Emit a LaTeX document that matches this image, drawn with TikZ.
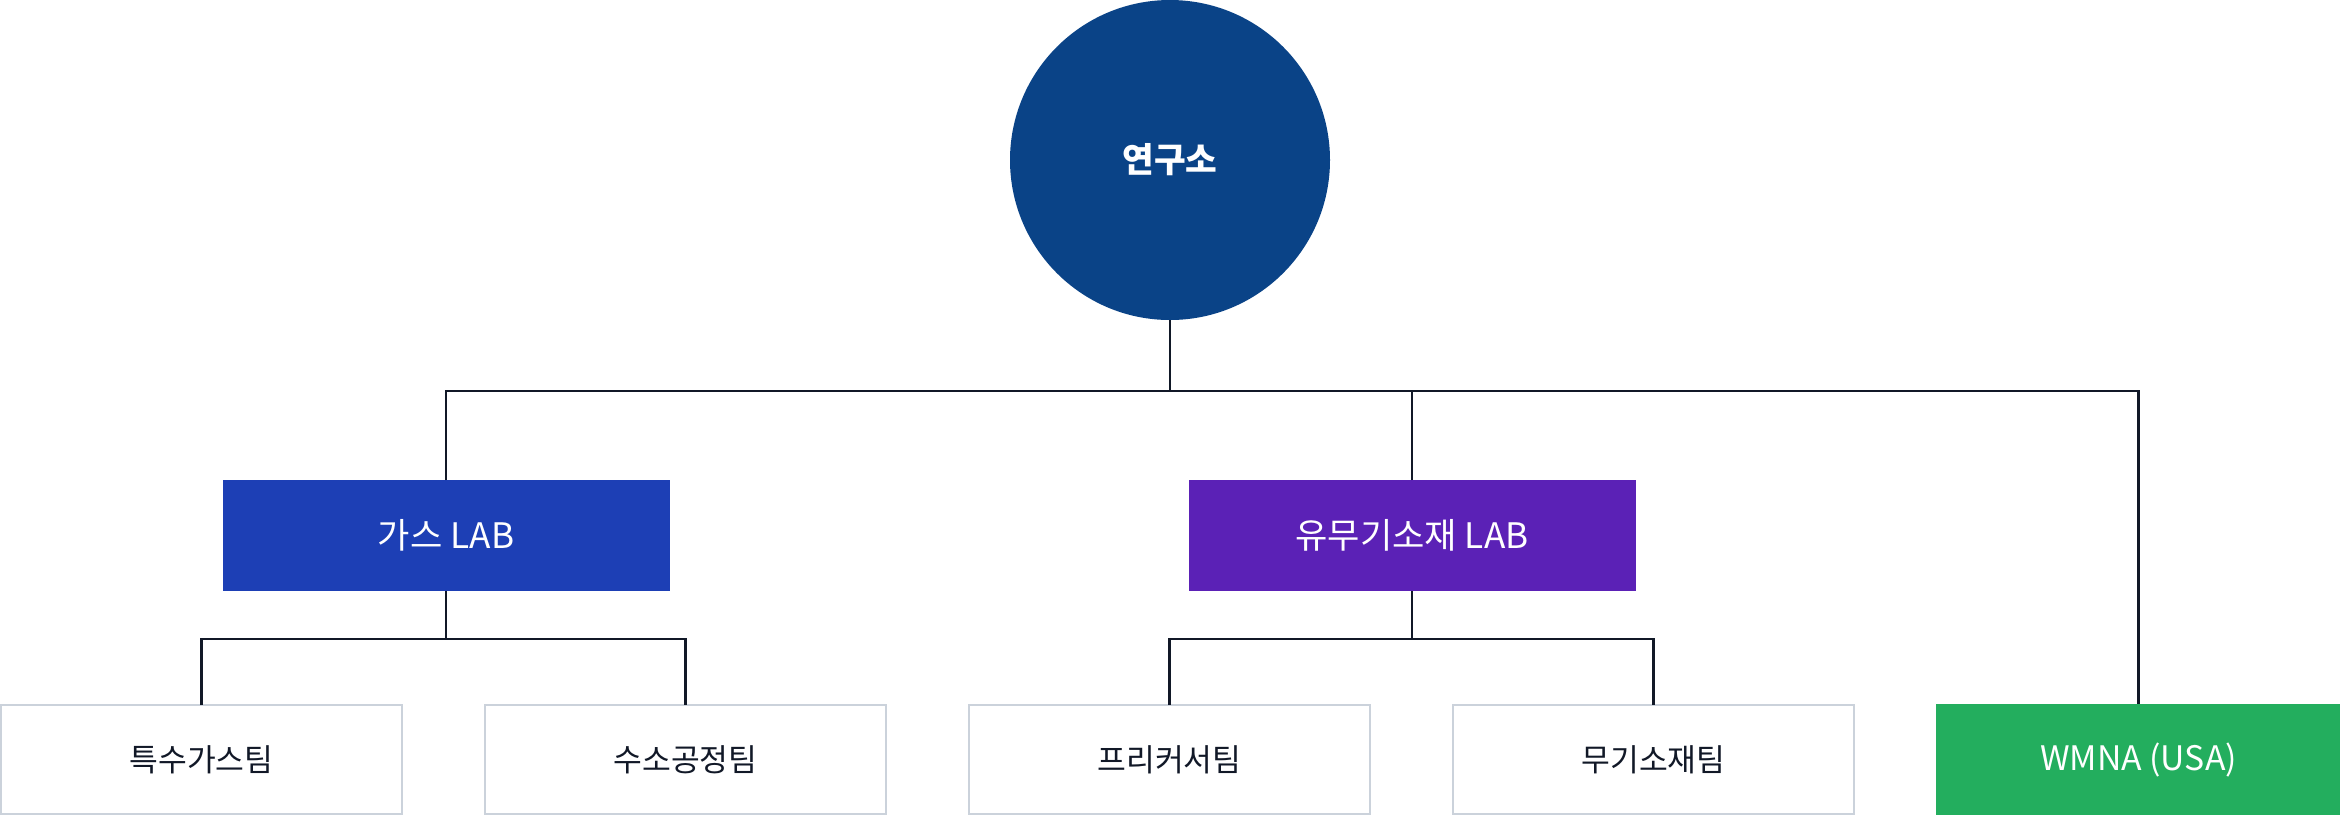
\documentclass[tikz,border=0pt]{standalone}
\usepackage{fontspec}
\setmainfont{Noto Sans CJK KR}
\usetikzlibrary{positioning}

\definecolor{rootblue}{HTML}{0A4387}
\definecolor{gasblue}{HTML}{1D3FB5}
\definecolor{labviolet}{HTML}{5B21B6}
\definecolor{wmnagreen}{HTML}{23AE5E}
\definecolor{boxgray}{HTML}{CBD2DB}
\definecolor{linedark}{HTML}{111827}

\begin{document}
\begin{tikzpicture}[
        every node/.style={inner sep=0pt, outer sep=0pt},
        lab/.style={fill=#1, text=white, minimum width=4.47cm, minimum height=1.11cm, font=\fontsize{10}{12}\selectfont},
        team/.style={draw=boxgray, line width=0.6pt, fill=white, text=linedark, minimum width=4.01cm, minimum height=1.09cm, font=\fontsize{8.9}{11}\selectfont},
        link/.style={draw=linedark, line width=0.6pt}
    ]
    \useasboundingbox (0,0) rectangle (23.4,-8.16);

    \node[circle, fill=rootblue, text=white, minimum size=3.2cm, font=\bfseries\fontsize{9.8}{12}\selectfont] (root) at (11.70,-1.60) {연구소};
    \coordinate[below=0.71cm of root] (bus);

    \node[lab=gasblue] (gas) at (4.46,-5.355) {가스 LAB};
    \node[lab=labviolet] (organic) at (14.12,-5.355) {유무기소재 LAB};
    \coordinate[below=0.48cm of gas] (gasbus);
    \coordinate[below=0.48cm of organic] (orgbus);

    \node[team] (team1) at (2.015,-7.595) {특수가스팀};
    \node[team, right=0.83cm of team1] (team2) {수소공정팀};
    \node[team, right=0.83cm of team2] (team3) {프리커서팀};
    \node[team, right=0.83cm of team3] (team4) {무기소재팀};
    \node[fill=wmnagreen, text=white, minimum width=4.05cm, minimum height=1.11cm, font=\fontsize{9.6}{12}\selectfont, right=0.82cm of team4] (wmna) {WMNA (USA)};

    \draw[link] (root.south) -- (bus);
    \draw[link] (gas.north) -- (gas.north |- bus) -| (wmna.north);
    \draw[link] (organic.north) -- (organic.north |- bus);
    \draw[link] (gas.south) -- (gasbus);
    \draw[link] (team1.north) |- (gasbus) -| (team2.north);
    \draw[link] (organic.south) -- (orgbus);
    \draw[link] (team3.north) |- (orgbus) -| (team4.north);
\end{tikzpicture}
\end{document}
